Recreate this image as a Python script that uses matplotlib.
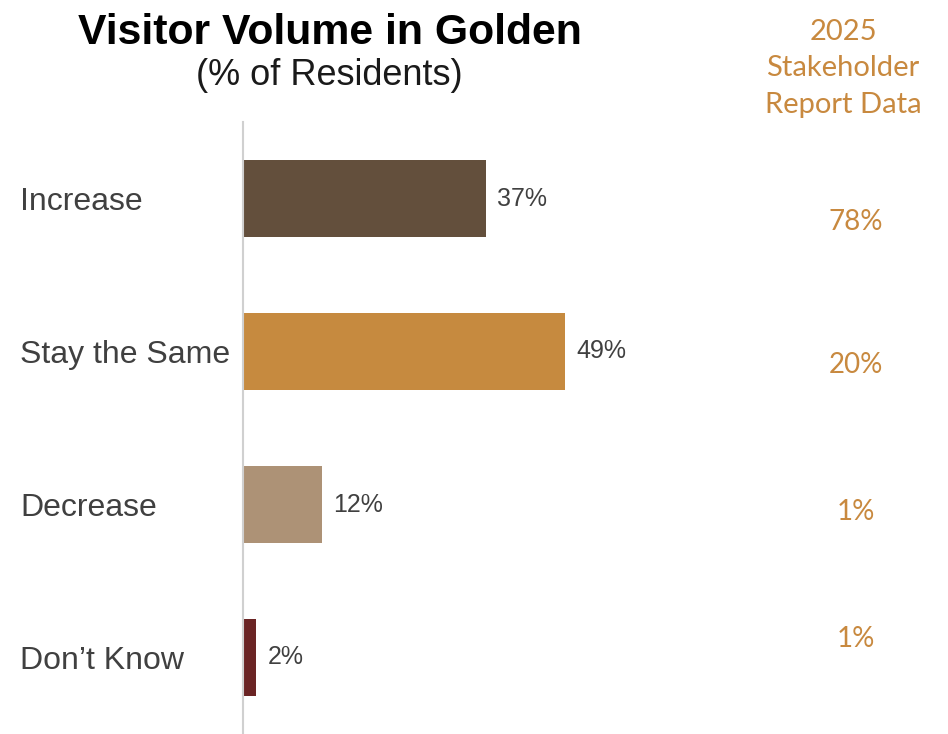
''' Visitor volume in Golden - horizontal bars '''

import matplotlib.pyplot as plt
from matplotlib.transforms import blended_transform_factory

# data
categories = ['Increase', 'Stay the Same', 'Decrease', 'Don\u2019t Know']
residents = [37, 49, 12, 2]                 # % of residents
stakeholder = ['78%', '20%', '1%', '1%']    # 2025 stakeholder report data
header_lines = ['2025', 'Stakeholder', 'Report Data']

# styles
bar_colors = ['#634F3C', '#C68A3F', '#AD9276', '#6B2525']
gold = '#C8893F'
text_gray = '#404040'
stake_nudge = [0.14, 0.07, 0.03, -0.14]     # small vertical shifts of the right column

W, H = 948, 734
fig = plt.figure(figsize=(W / 100, H / 100), dpi=100)
fig.patch.set_facecolor('white')

# axes: left edge at the gray line, runs to bottom of figure
ax = fig.add_axes([243 / W, 0, 1 - 243 / W, 1 - 122 / H])
y = list(range(len(categories)))
ax.barh(y, residents, height=0.5, color=bar_colors)
ax.set_ylim(3.5, -0.5)
ax.set_xlim(0, (W - 243) / 6.57)

for s in ['top', 'right', 'bottom']:
    ax.spines[s].set_visible(False)
ax.spines['left'].set_color('#D0D0D0')
ax.spines['left'].set_linewidth(1.5)
ax.set_xticks([])
ax.set_yticks([])

# value labels at bar ends
for yi, v in zip(y, residents):
    ax.annotate(f'{v}%', (v, yi), xytext=(8, 0), textcoords='offset points',
                ha='left', va='center', fontsize=18, color=text_gray,
                family='Liberation Sans')

# category labels
trans = blended_transform_factory(fig.transFigure, ax.transData)
for yi, c in zip(y, categories):
    ax.text(20 / W, yi, c, transform=trans, ha='left', va='center_baseline',
            fontsize=23, color=text_gray, family='Liberation Sans')

# right column values
for yi, s, dy in zip(y, stakeholder, stake_nudge):
    ax.text(856 / W, yi + dy, s, transform=trans, ha='center',
            va='center_baseline', fontsize=20, color=gold, family='Lato')

# titles
fig.text(330 / W, 1 - 44 / H, 'Visitor Volume in Golden', ha='center',
         va='baseline', fontsize=30.8, fontweight='bold', color='black',
         family='Liberation Sans')
fig.text(329 / W, 1 - 85 / H, '(% of Residents)', ha='center', va='baseline',
         fontsize=26, color='#1a1a1a', family='Liberation Sans')

# right column header
for i, line in enumerate(header_lines):
    fig.text(843 / W, 1 - (40 + 36.5 * i) / H, line, ha='center',
             va='baseline', fontsize=21, color=gold, family='Lato')

plt.savefig('out.png', dpi=100)
